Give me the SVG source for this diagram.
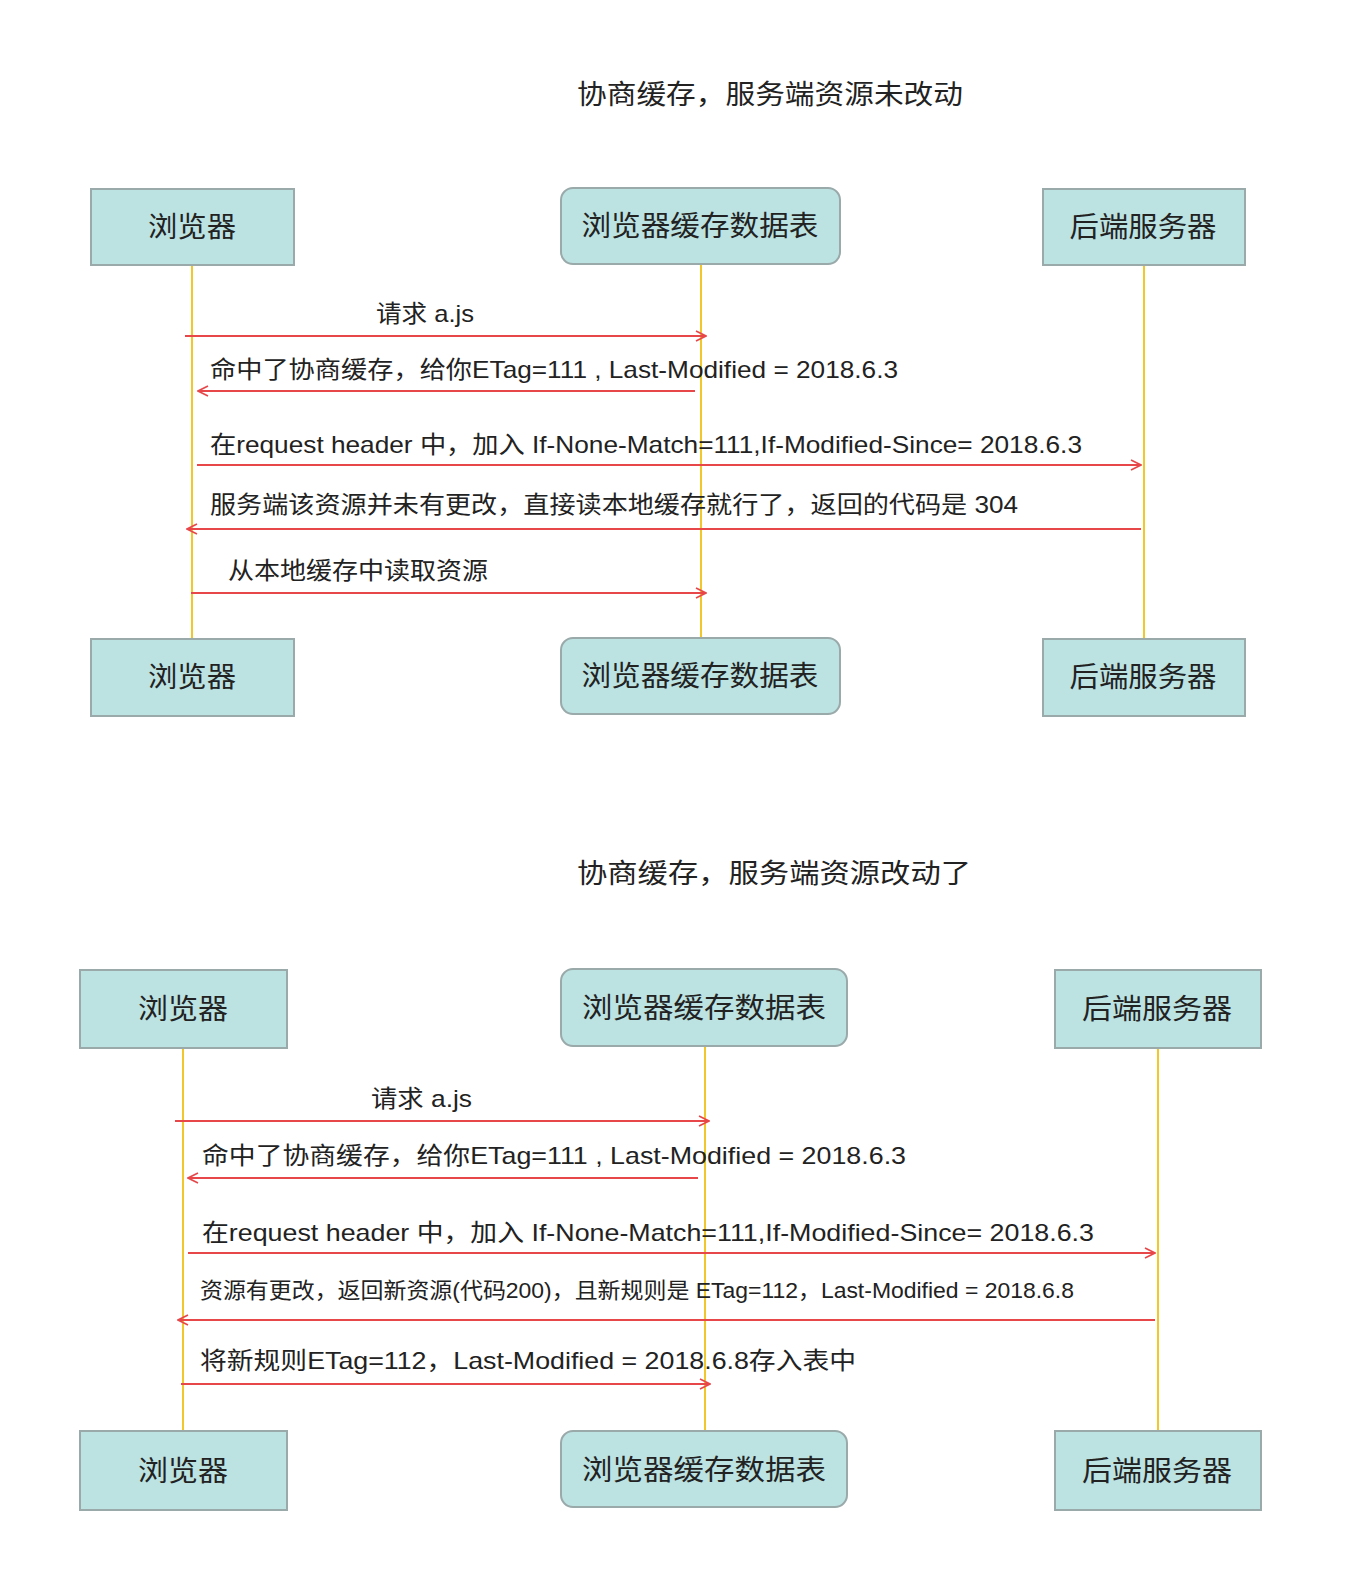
<svg xmlns="http://www.w3.org/2000/svg" width="1370" height="1572" viewBox="0 0 1370 1572">
<defs>
<style>
.t{font-family:"Liberation Sans","Noto Sans CJK SC",sans-serif;fill:#222}
.title{font-size:27px}
.box{fill:#bce2e2;stroke:#9aa9a9;stroke-width:2}
.bt{font-size:28px;text-anchor:middle}
.msg{font-size:24px}
.life{stroke:#f2c72a;stroke-width:2;fill:none}
.arr{stroke:#e8474a;stroke-width:2;fill:none;marker-end:url(#ah)}
</style>
<marker id="ah" viewBox="0 0 12 12" refX="11" refY="6" markerWidth="12" markerHeight="12" markerUnits="userSpaceOnUse" orient="auto">
<path d="M1,1 L11,6 L1,11" fill="none" stroke="#e8474a" stroke-width="1.6"/>
</marker>
</defs>
<rect width="1370" height="1572" fill="#ffffff"/>

<text class="t title" x="577" y="104" textLength="386" lengthAdjust="spacingAndGlyphs">协商缓存，服务端资源未改动</text>
<text class="t title" x="577" y="883" textLength="394" lengthAdjust="spacingAndGlyphs">协商缓存，服务端资源改动了</text>

<g id="lifelines">
<line class="life" x1="192" y1="265" x2="192" y2="639"/>
<line class="life" x1="701" y1="264" x2="701" y2="638"/>
<line class="life" x1="1144" y1="265" x2="1144" y2="639"/>
<line class="life" x1="183" y1="1048" x2="183" y2="1431"/>
<line class="life" x1="705" y1="1046" x2="705" y2="1431"/>
<line class="life" x1="1158" y1="1048" x2="1158" y2="1431"/>
</g>

<g id="top-browser"><rect class="box" x="91" y="189" width="203" height="76"/><text class="t bt" x="192" y="237" textLength="88" lengthAdjust="spacingAndGlyphs">浏览器</text></g>
<g id="top-cache"><rect class="box" x="561" y="188" width="279" height="76" rx="12"/><text class="t bt" x="700" y="236" textLength="237" lengthAdjust="spacingAndGlyphs">浏览器缓存数据表</text></g>
<g id="top-server"><rect class="box" x="1043" y="189" width="202" height="76"/><text class="t bt" x="1143" y="237" textLength="147" lengthAdjust="spacingAndGlyphs">后端服务器</text></g>
<g id="top-browser-end"><rect class="box" x="91" y="639" width="203" height="77"/><text class="t bt" x="192" y="687" textLength="88" lengthAdjust="spacingAndGlyphs">浏览器</text></g>
<g id="top-cache-end"><rect class="box" x="561" y="638" width="279" height="76" rx="12"/><text class="t bt" x="700" y="686" textLength="237" lengthAdjust="spacingAndGlyphs">浏览器缓存数据表</text></g>
<g id="top-server-end"><rect class="box" x="1043" y="639" width="202" height="77"/><text class="t bt" x="1143" y="687" textLength="147" lengthAdjust="spacingAndGlyphs">后端服务器</text></g>

<g id="bot-browser"><rect class="box" x="80" y="970" width="207" height="78"/><text class="t bt" x="183" y="1019" textLength="90" lengthAdjust="spacingAndGlyphs">浏览器</text></g>
<g id="bot-cache"><rect class="box" x="561" y="969" width="286" height="77" rx="12"/><text class="t bt" x="704" y="1018" textLength="244" lengthAdjust="spacingAndGlyphs">浏览器缓存数据表</text></g>
<g id="bot-server"><rect class="box" x="1055" y="970" width="206" height="78"/><text class="t bt" x="1157" y="1019" textLength="150" lengthAdjust="spacingAndGlyphs">后端服务器</text></g>
<g id="bot-browser-end"><rect class="box" x="80" y="1431" width="207" height="79"/><text class="t bt" x="183" y="1481" textLength="90" lengthAdjust="spacingAndGlyphs">浏览器</text></g>
<g id="bot-cache-end"><rect class="box" x="561" y="1431" width="286" height="76" rx="12"/><text class="t bt" x="704" y="1480" textLength="244" lengthAdjust="spacingAndGlyphs">浏览器缓存数据表</text></g>
<g id="bot-server-end"><rect class="box" x="1055" y="1431" width="206" height="79"/><text class="t bt" x="1157" y="1481" textLength="150" lengthAdjust="spacingAndGlyphs">后端服务器</text></g>

<g id="connectors">
<line class="arr" x1="185" y1="336" x2="706" y2="336"/>
<line class="arr" x1="695" y1="391" x2="198" y2="391"/>
<line class="arr" x1="197" y1="465" x2="1141" y2="465"/>
<line class="arr" x1="1141" y1="529" x2="187" y2="529"/>
<line class="arr" x1="191" y1="593" x2="706" y2="593"/>
<line class="arr" x1="175" y1="1121" x2="709" y2="1121"/>
<line class="arr" x1="698" y1="1178" x2="188" y2="1178"/>
<line class="arr" x1="188" y1="1253" x2="1155" y2="1253"/>
<line class="arr" x1="1155" y1="1320" x2="178" y2="1320"/>
<line class="arr" x1="181" y1="1384" x2="710" y2="1384"/>
</g>

<g id="labels">
<text class="t msg" x="376" y="322" textLength="98" lengthAdjust="spacingAndGlyphs">请求 a.js</text>
<text class="t msg" x="210" y="378" textLength="688" lengthAdjust="spacingAndGlyphs">命中了协商缓存，给你ETag=111 , Last-Modified = 2018.6.3</text>
<text class="t msg" x="210" y="453" textLength="872" lengthAdjust="spacingAndGlyphs">在request header 中，加入 If-None-Match=111,If-Modified-Since= 2018.6.3</text>
<text class="t msg" x="210" y="513" textLength="808" lengthAdjust="spacingAndGlyphs">服务端该资源并未有更改，直接读本地缓存就行了，返回的代码是 304</text>
<text class="t msg" x="228" y="579" textLength="260" lengthAdjust="spacingAndGlyphs">从本地缓存中读取资源</text>
<text class="t msg" x="371" y="1107" textLength="101" lengthAdjust="spacingAndGlyphs">请求 a.js</text>
<text class="t msg" x="202" y="1164" textLength="704" lengthAdjust="spacingAndGlyphs">命中了协商缓存，给你ETag=111 , Last-Modified = 2018.6.3</text>
<text class="t msg" x="202" y="1241" textLength="892" lengthAdjust="spacingAndGlyphs">在request header 中，加入 If-None-Match=111,If-Modified-Since= 2018.6.3</text>
<text class="t msg" x="200" y="1298" style="font-size:22px" textLength="874" lengthAdjust="spacingAndGlyphs">资源有更改，返回新资源(代码200)，且新规则是 ETag=112，Last-Modified = 2018.6.8</text>
<text class="t msg" x="200" y="1369" textLength="656" lengthAdjust="spacingAndGlyphs">将新规则ETag=112，Last-Modified = 2018.6.8存入表中</text>
</g>
</svg>
